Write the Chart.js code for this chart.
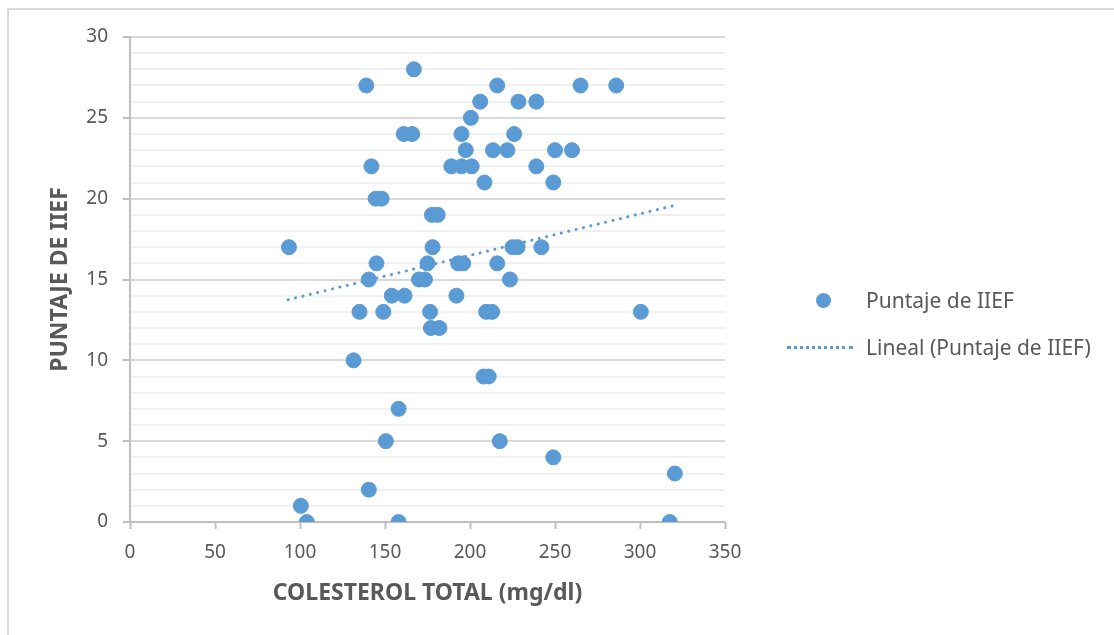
<!DOCTYPE html>
<html>
<head>
<meta charset="utf-8">
<script src="https://cdn.jsdelivr.net/npm/chart.js@4.4.0/dist/chart.umd.min.js"></script>
<style>
  body { margin: 0; background: #fff; }
  #wrap { position: relative; width: 1114px; height: 635px; overflow: hidden; }
  #frame { position: absolute; left: 7px; top: 8px; width: 1200px; height: 700px;
           border-top: 2px solid #d9d9d9; border-left: 2px solid #d9d9d9; }
  #c { position: absolute; left: 0; top: 0; }
  .leg { position: absolute; font-family: "Noto Sans", sans-serif;
         font-size: 21px; color: #595959; line-height: 24px; white-space: nowrap; }
  .dot { position: absolute; width: 15px; height: 15px; border-radius: 50%; background: #5b9bd5; }
  .dash { position: absolute; width: 66px; height: 0; border-top: 3px dotted #5b9bd5; }
</style>
</head>
<body>
<div id="wrap">
  <div id="frame"></div>
  <canvas id="c" width="1114" height="635"></canvas>
  <div class="dot" style="left:816px; top:293px;"></div>
  <div class="leg" style="left:866px; top:288px;">Puntaje de IIEF</div>
  <div class="dash" style="left:787px; top:346px;"></div>
  <div class="leg" style="left:866px; top:335px;">Lineal (Puntaje de IIEF)</div>
</div>
<script>
const colesterol = [93.5, 100.5, 104, 131.5, 135, 139, 140.5, 140.5, 142, 144.5, 148, 145, 149, 150.5,
  154, 161.5, 158, 158, 161, 166, 167, 170, 173.5, 175, 176.5, 177.6, 181, 178, 177, 182,
  189, 195, 201, 192, 193, 196, 195, 197.5, 200.5, 206, 208.5, 208, 211, 209.5, 213, 213.5,
  216, 216, 217.5, 222, 223.5, 225, 228, 226, 228.5, 239, 239, 242, 249, 250, 249, 260,
  265, 286, 300.5, 317.5, 320.5];
const puntaje = [17, 1, 0, 10, 13, 27, 15, 2, 22, 20, 20, 16, 13, 5,
  14, 14, 7, 0, 24, 24, 28, 15, 15, 16, 13, 19, 19, 17, 12, 12,
  22, 22, 22, 14, 16, 16, 24, 23, 25, 26, 21, 9, 9, 13, 13, 23,
  16, 27, 5, 23, 15, 17, 17, 24, 26, 26, 22, 17, 21, 23, 4, 23,
  27, 27, 13, 0, 3];
// tendencia lineal (extremos)
const trendX = [93, 319];
const trendY = [13.75, 19.55];
const xTicks = [0, 50, 100, 150, 200, 250, 300, 350];

const font = '"Noto Sans", sans-serif';
const blue = '#5b9bd5';

new Chart(document.getElementById('c').getContext('2d'), {
  type: 'scatter',
  data: {
    datasets: [{
      label: 'Puntaje de IIEF',
      data: colesterol.map((x, i) => ({ x: x, y: puntaje[i] })),
      backgroundColor: blue,
      borderColor: blue,
      pointRadius: 7.5,
      pointHoverRadius: 7.5,
      order: 2
    }, {
      label: 'Lineal (Puntaje de IIEF)',
      type: 'line',
      data: trendX.map((x, i) => ({ x: x, y: trendY[i] })),
      borderColor: blue,
      borderWidth: 3,
      borderDash: [0.1, 7.5],
      borderCapStyle: 'round',
      pointRadius: 0,
      fill: false,
      order: 1
    }]
  },
  options: {
    responsive: false,
    animation: false,
    layout: { padding: { top: 37, right: 389, bottom: 0, left: 0 } },
    plugins: { legend: { display: false }, tooltip: { enabled: false } },
    scales: {
      x: {
        type: 'linear',
        min: 0, max: 350,
        afterFit: s => { s.height = 113; },
        afterBuildTicks: s => { s.ticks = xTicks.map(v => ({ value: v })); },
        ticks: { color: '#595959', font: { family: font, size: 19 }, padding: 12 },
        grid: { drawOnChartArea: false, tickLength: 7, tickColor: '#bfbfbf', tickWidth: 2 },
        border: { color: '#bfbfbf', width: 2 },
        title: {
          display: true, text: 'COLESTEROL TOTAL (mg/dl)', color: '#595959',
          font: { family: font, size: 23, weight: 'bold' },
          padding: { top: 0, bottom: 28 }
        }
      },
      y: {
        min: 0, max: 30,
        afterFit: s => { s.width = 130; },
        ticks: {
          stepSize: 1, autoSkip: false, color: '#595959', padding: 15,
          font: { family: font, size: 19 },
          callback: v => (v % 5 === 0 ? v : '')
        },
        grid: {
          color: c => (c.tick && c.tick.value % 5 === 0 ? '#d9d9d9' : '#f0f0f0'),
          lineWidth: 2,
          tickLength: 7,
          tickColor: c => (c.tick && c.tick.value % 5 === 0 ? '#bfbfbf' : 'rgba(0,0,0,0)')
        },
        border: { color: '#bfbfbf', width: 2 },
        title: {
          display: true, text: 'PUNTAJE DE IIEF', color: '#595959',
          font: { family: font, size: 23, weight: 'bold' },
          padding: { top: 47, bottom: 0 }
        }
      }
    }
  }
});
</script>
</body>
</html>
